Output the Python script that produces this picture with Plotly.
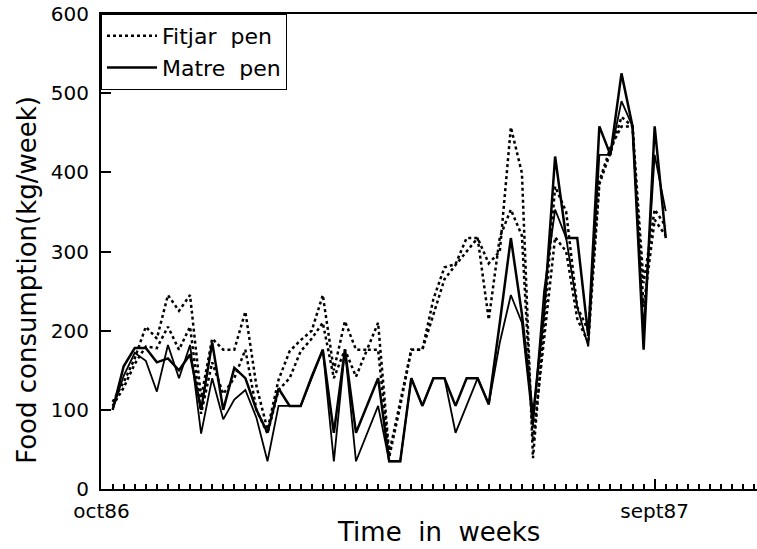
import plotly.graph_objects as go

weeks = list(range(1, 52))

fitjar_a = [110, 135, 165, 205, 190, 245, 225, 245, 115, 190,
            176, 176, 224, 130, 75, 138, 174, 188, 200, 245,
            150, 212, 176, 176, 210, 45, 110, 176, 176, 240,
            280, 284, 317, 317, 285, 300, 457, 399, 39, 210,
            382, 350, 230, 200, 389, 431, 458, 458, 260, 353, 332]
fitjar_b = [105, 128, 158, 180, 178, 205, 176, 205, 95, 160,
            120, 140, 176, 100, 70, 125, 140, 174, 190, 210,
            140, 176, 142, 176, 176, 40, 105, 176, 176, 220,
            265, 283, 300, 317, 214, 318, 353, 320, 60, 190,
            318, 300, 215, 185, 385, 425, 470, 458, 230, 340, 320]
matre_a = [100, 155, 178, 178, 160, 165, 150, 170, 100, 185,
           100, 153, 140, 100, 71, 127, 105, 105, 142, 176,
           71, 176, 71, 105, 140, 35, 35, 140, 105, 140,
           140, 105, 140, 140, 107, 210, 317, 221, 92, 222,
           420, 317, 317, 193, 458, 422, 525, 458, 176, 458, 317]
matre_b = [100, 143, 172, 162, 123, 182, 140, 182, 70, 140,
           88, 113, 125, 90, 35, 105, 105, 105, 140, 176,
           35, 176, 35, 71, 105, 35, 35, 140, 105, 140,
           140, 71, 105, 140, 107, 185, 245, 210, 80, 250,
           353, 317, 230, 180, 422, 422, 490, 458, 200, 422, 351]

x_tick_vals = [0, 50]
x_tick_text = ["oct86", "sept87"]
y_tick_vals = [0, 100, 200, 300, 400, 500, 600]

FONT = "DejaVu Sans"

fig = go.Figure()
fig.add_trace(go.Scatter(x=weeks, y=fitjar_a, mode="lines", name="Fitjar&nbsp; pen",
                         legendgroup="f", line=dict(color="black", width=2.5, dash="dot")))
fig.add_trace(go.Scatter(x=weeks, y=fitjar_b, mode="lines", name="Fitjar pen",
                         legendgroup="f", showlegend=False,
                         line=dict(color="black", width=2.5, dash="dot")))
fig.add_trace(go.Scatter(x=weeks, y=matre_a, mode="lines", name="Matre&nbsp; pen",
                         legendgroup="m", line=dict(color="black", width=2.5)))
fig.add_trace(go.Scatter(x=weeks, y=matre_b, mode="lines", name="Matre pen",
                         legendgroup="m", showlegend=False,
                         line=dict(color="black", width=1.8)))

fig.update_layout(
    width=757, height=549,
    margin=dict(l=101, r=0, t=14, b=60),
    paper_bgcolor="white", plot_bgcolor="white",
    font=dict(family=FONT, color="black", size=20),
    legend=dict(x=0, y=1, xanchor="left", yanchor="top",
                bordercolor="black", borderwidth=1, bgcolor="white",
                font=dict(size=22, family=FONT), tracegroupgap=0,
                itemwidth=50),
)
fig.update_xaxes(
    range=[-0.05, 59.25], showline=True, linewidth=2, linecolor="black",
    mirror=True, showgrid=False, zeroline=False,
    tickmode="array", tickvals=x_tick_vals, ticktext=x_tick_text,
    ticks="inside", ticklen=10, tickwidth=1.5, tickcolor="black",
    minor=dict(ticks="inside", ticklen=5, dtick=1, tick0=0, tickwidth=1.5,
               tickcolor="black", showgrid=False),
    tickfont=dict(size=20), ticklabelstandoff=3,
)
fig.update_yaxes(
    range=[0, 600], showline=True, linewidth=2, linecolor="black",
    showgrid=False, zeroline=False,
    tickmode="array", tickvals=y_tick_vals,
    ticks="inside", ticklen=10, tickwidth=1.5, tickcolor="black",
    tickfont=dict(size=20), ticklabelstandoff=6,
)
fig.add_annotation(text="Food consumption(kg/week)", xref="paper", yref="paper",
                   x=-0.113, y=0.44, textangle=-90, showarrow=False,
                   xanchor="center", yanchor="middle",
                   font=dict(size=26, family=FONT))
fig.add_annotation(text="Time&nbsp; in&nbsp; weeks", xref="paper", yref="paper",
                   x=0.514, y=-0.09, showarrow=False,
                   xanchor="center", yanchor="middle",
                   font=dict(size=26, family=FONT))

fig.write_html("out.html")
